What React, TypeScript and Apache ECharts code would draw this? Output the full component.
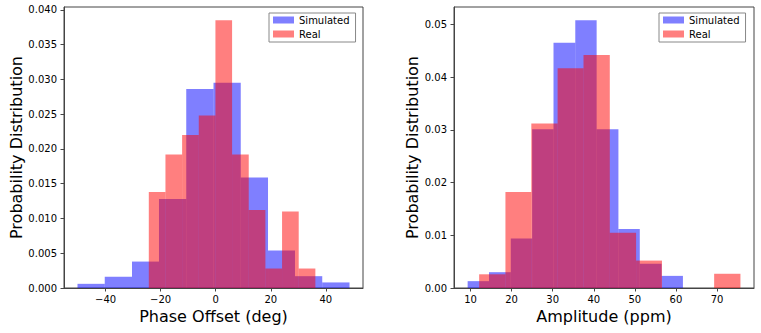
import React, { useEffect, useRef } from "react";
import * as echarts from "echarts";

// Phase offset histograms
const phaseSimEdges = [-50.2, -40.3, -30.4, -20.6, -10.7, -0.8, 9.1, 19.0, 28.8, 38.7, 48.6];
const phaseSimHeights = [0.0006, 0.0016, 0.0038, 0.0128, 0.0286, 0.0295, 0.0159, 0.0054, 0.0017, 0.0008];
const phaseRealEdges = [-24.3, -18.25, -12.2, -6.15, -0.1, 5.95, 12.0, 18.05, 24.1, 30.15, 36.2];
const phaseRealHeights = [0.0138, 0.0192, 0.022, 0.0248, 0.0385, 0.0192, 0.0112, 0.0028, 0.011, 0.0028];

// Amplitude histograms
const ampSimEdges = [9.3, 14.5, 19.8, 25.0, 30.2, 35.5, 40.7, 46.0, 51.2, 56.5, 61.7];
const ampSimHeights = [0.0013, 0.003, 0.0094, 0.0301, 0.0465, 0.0508, 0.0301, 0.0112, 0.0046, 0.0023];
const ampRealEdges = [12.1, 18.5, 24.8, 31.2, 37.5, 43.9, 50.3, 56.6, 63.0, 69.3, 75.7];
const ampRealHeights = [0.0026, 0.0182, 0.0312, 0.0417, 0.0442, 0.0105, 0.0052, 0, 0, 0.0027];

// Tick labels
const phaseXTicks = [-40, -20, 0, 20, 40];
const phaseYTicks = [0, 0.005, 0.01, 0.015, 0.02, 0.025, 0.03, 0.035, 0.04];
const ampXTicks = [10, 20, 30, 40, 50, 60, 70];
const ampYTicks = [0, 0.01, 0.02, 0.03, 0.04, 0.05];

const FONT = "DejaVu Sans";
const BLUE = "rgba(0,0,255,0.5)";
const RED = "rgba(255,0,0,0.5)";
const SPINE = "#444";

function toBins(edges: number[], heights: number[]) {
  return heights.map((h, i) => [edges[i], edges[i + 1], h]);
}

function histSeries(name: string, idx: number, edges: number[], heights: number[], color: string) {
  return {
    type: "custom",
    name,
    xAxisIndex: idx,
    yAxisIndex: idx,
    itemStyle: { color },
    encode: { x: [0, 1], y: 2 },
    data: toBins(edges, heights),
    renderItem: (params: any, api: any) => {
      const h = api.value(2);
      if (!h) return null;
      const p0 = api.coord([api.value(0), h]);
      const p1 = api.coord([api.value(1), 0]);
      return {
        type: "rect",
        shape: { x: p0[0], y: p0[1], width: p1[0] - p0[0], height: p1[1] - p0[1] },
        style: { fill: color },
      };
    },
  };
}

const fmtMinus = (v: number) => (v < 0 ? "\u2212" + Math.abs(v) : String(v));

function xAxis(idx: number, min: number, max: number, ticks: number[], name: string) {
  return {
    type: "value",
    gridIndex: idx,
    min,
    max,
    name,
    nameLocation: "middle",
    nameGap: 20,
    nameTextStyle: { fontFamily: FONT, fontSize: 16, color: "#000" },
    axisLine: { show: true, onZero: false, lineStyle: { color: SPINE, width: 1 } },
    axisTick: { show: true, length: 3.5, lineStyle: { color: SPINE }, customValues: ticks },
    axisLabel: {
      fontFamily: FONT,
      fontSize: 10,
      color: "#000",
      margin: 6,
      customValues: ticks,
      formatter: (v: number) => fmtMinus(v),
    },
    splitLine: { show: false },
  };
}

function yAxis(idx: number, max: number, ticks: number[], digits: number, gap: number) {
  return {
    type: "value",
    gridIndex: idx,
    min: 0,
    max,
    name: "Probability Distribution",
    nameLocation: "middle",
    nameGap: gap,
    nameTextStyle: { fontFamily: FONT, fontSize: 16, color: "#000" },
    axisLine: { show: true, onZero: false, lineStyle: { color: SPINE, width: 1 } },
    axisTick: { show: true, length: 3.5, lineStyle: { color: SPINE }, customValues: ticks },
    axisLabel: {
      fontFamily: FONT,
      fontSize: 10,
      color: "#000",
      margin: 7,
      customValues: ticks,
      formatter: (v: number) => v.toFixed(digits),
    },
    splitLine: { show: false },
  };
}

function legend(left: number) {
  return {
    left,
    top: 13,
    orient: "vertical",
    icon: "rect",
    itemWidth: 21,
    itemHeight: 7,
    itemGap: 4,
    padding: [2, 6, 3, 4],
    borderColor: "#888",
    borderWidth: 1,
    borderRadius: 0,
    backgroundColor: "#fff",
    selectedMode: false,
    textStyle: { fontFamily: FONT, fontSize: 10, color: "#000" },
    data: ["Simulated", "Real"],
  };
}

export default function App() {
  const ref = useRef<HTMLDivElement>(null);
  useEffect(() => {
    if (!ref.current) return;
    const chart = echarts.init(ref.current, undefined, { renderer: "svg" });
    chart.setOption({
      animation: false,
      backgroundColor: "#fff",
      grid: [
        { left: 64, right: 398, top: 7, bottom: 45, show: true, borderColor: SPINE, borderWidth: 1, backgroundColor: "transparent" },
        { left: 454, right: 7, top: 7, bottom: 45, show: true, borderColor: SPINE, borderWidth: 1, backgroundColor: "transparent" },
      ],
      legend: [legend(269), legend(659)],
      xAxis: [
        xAxis(0, -55.1, 53.5, phaseXTicks, "Phase Offset (deg)"),
        xAxis(1, 5.98, 79.0, ampXTicks, "Amplitude (ppm)"),
      ],
      yAxis: [yAxis(0, 0.0404, phaseYTicks, 3, 38), yAxis(1, 0.0533, ampYTicks, 2, 34)],
      series: [
        histSeries("Simulated", 0, phaseSimEdges, phaseSimHeights, BLUE),
        histSeries("Real", 0, phaseRealEdges, phaseRealHeights, RED),
        histSeries("Simulated", 1, ampSimEdges, ampSimHeights, BLUE),
        histSeries("Real", 1, ampRealEdges, ampRealHeights, RED),
      ],
    });
    return () => chart.dispose();
  }, []);
  return <div ref={ref} style={{ width: 761, height: 333, position: "absolute", left: 0, top: 0 }} />;
}
